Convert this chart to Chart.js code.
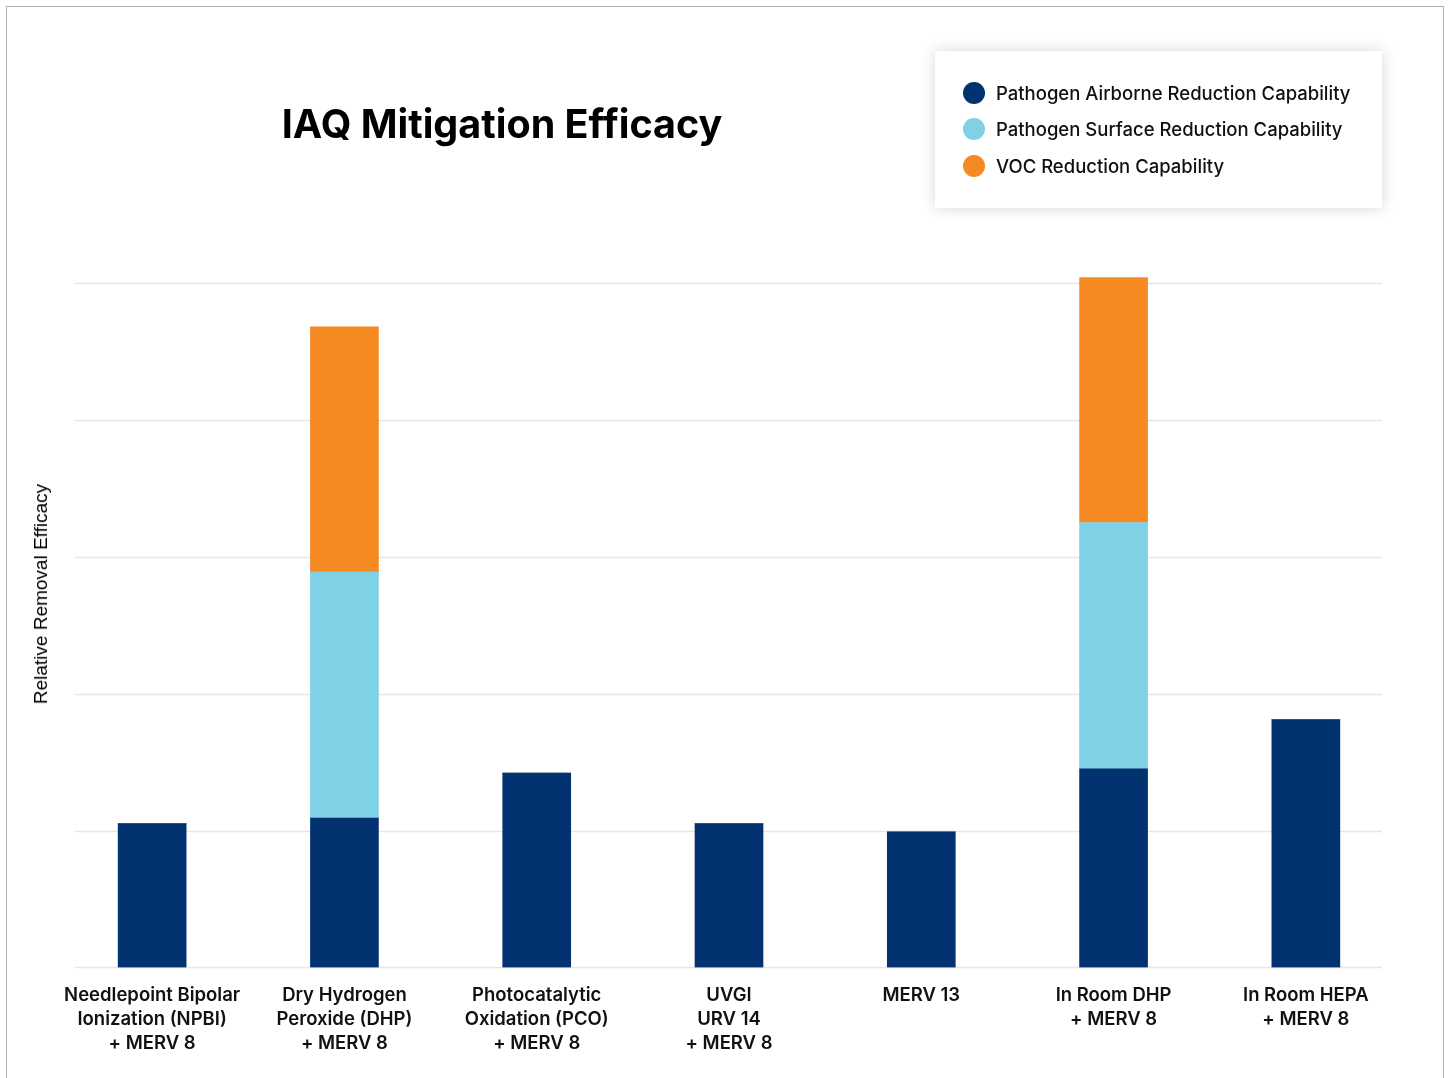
<!DOCTYPE html>
<html>
<head>
<meta charset="utf-8">
<title>IAQ Mitigation Efficacy</title>
<script src="https://cdn.jsdelivr.net/npm/chart.js@4.4.1/dist/chart.umd.min.js"></script>
<style>
    html, body {
        margin: 0;
        padding: 0;
        background: #fff;
        width: 1449px;
        height: 1078px;
        overflow: hidden;
    }
    .frame {
        position: absolute;
        left: 6px;
        top: 6px;
        width: 1436px;
        height: 1100px;
        border: 1.5px solid #b0b0b0;
    }
    #chartWrap {
        position: absolute;
        left: 0;
        top: 0;
        width: 1449px;
        height: 1078px;
    }
    .chart-title {
        position: absolute;
        left: 202px;
        top: 99px;
        width: 600px;
        text-align: center;
        font-family: Inter, "Noto Sans", sans-serif;
        font-weight: 700;
        font-size: 39.5px;
        line-height: 50px;
        color: #000;
    }
    .y-title {
        position: absolute;
        left: 41px;
        top: 594px;
        transform: translate(-50%, -50%) rotate(-90deg);
        white-space: nowrap;
        font-family: "Liberation Sans", Arial, sans-serif;
        font-size: 19px;
        color: #000;
    }
    .legend-box {
        position: absolute;
        left: 935px;
        top: 51px;
        width: 447px;
        height: 157px;
        background: #fff;
        box-shadow: 0 0 14px rgba(0, 0, 0, 0.16);
    }
    .legend-item {
        position: absolute;
        left: 28px;
        height: 24px;
        display: flex;
        align-items: center;
        font-family: Inter, "Noto Sans", sans-serif;
        font-weight: 500;
        font-size: 18.5px;
        color: #111;
        white-space: nowrap;
    }
    .legend-dot {
        width: 22px;
        height: 22px;
        border-radius: 50%;
        margin-right: 11px;
    }
</style>
</head>
<body>
<div class="frame"></div>
<div id="chartWrap"><canvas id="iaqChart" width="1449" height="1078"></canvas></div>
<div class="chart-title">IAQ Mitigation Efficacy</div>
<div class="y-title">Relative Removal Efficacy</div>
<div class="legend-box" id="legendBox"></div>

<script>
// Categories (multi-line tick labels)
const categories = [
    ['Needlepoint Bipolar', 'Ionization (NPBI)', '+ MERV 8'],
    ['Dry Hydrogen', 'Peroxide (DHP)', '+ MERV 8'],
    ['Photocatalytic', 'Oxidation (PCO)', '+ MERV 8'],
    ['UVGI', 'URV 14', '+ MERV 8'],
    ['MERV 13'],
    ['In Room DHP', '+ MERV 8'],
    ['In Room HEPA', '+ MERV 8']
];

// Series values (relative units)
const airborneValues = [1.05, 1.09, 1.42, 1.05, 0.99, 1.45, 1.81];
const surfaceValues  = [0, 1.80, 0, 0, 0, 1.80, 0];
const vocValues      = [0, 1.79, 0, 0, 0, 1.79, 0];

// Gridline values (no tick labels shown)
const gridValues = [0, 1, 2, 3, 4, 5];

const seriesNames = [
    'Pathogen Airborne Reduction Capability',
    'Pathogen Surface Reduction Capability',
    'VOC Reduction Capability'
];
const seriesColors = ['#033270', '#7fd1e6', '#f58a22'];

// Light horizontal gridlines, drawn a bit narrower than the category band
const gridPlugin = {
    id: 'shortGrid',
    beforeDatasetsDraw(chart) {
        const ctx = chart.ctx;
        const y = chart.scales.y;
        ctx.save();
        ctx.strokeStyle = '#e6e6e6';
        ctx.lineWidth = 1.5;
        gridValues.forEach(v => {
            const py = Math.round(y.getPixelForValue(v)) + 0.5;
            ctx.beginPath();
            ctx.moveTo(75, py);
            ctx.lineTo(1382, py);
            ctx.stroke();
        });
        ctx.restore();
    }
};

const datasets = [airborneValues, surfaceValues, vocValues].map((vals, i) => ({
    label: seriesNames[i],
    data: vals,
    backgroundColor: seriesColors[i],
    borderWidth: 0,
    barThickness: 68,
    stack: 'all'
}));

const chart = new Chart(document.getElementById('iaqChart'), {
    type: 'bar',
    data: {
        labels: categories,
        datasets: datasets
    },
    options: {
        responsive: false,
        animation: false,
        layout: {
            padding: { left: 56, right: 47, top: 220, bottom: 7 }
        },
        plugins: {
            legend: { display: false },
            title: { display: false },
            tooltip: { enabled: false }
        },
        scales: {
            x: {
                stacked: true,
                offset: true,
                grid: { display: false, drawTicks: false },
                border: { display: false },
                ticks: {
                    color: '#111',
                    padding: 16,
                    maxRotation: 0,
                    autoSkip: false,
                    font: { family: 'Inter, "Noto Sans", sans-serif', size: 18.5, weight: 600, lineHeight: 1.29 }
                }
            },
            y: {
                display: false,
                stacked: true,
                min: 0,
                max: 5.46
            }
        }
    },
    plugins: [gridPlugin]
});

// Legend built from the chart datasets
const legendBox = document.getElementById('legendBox');
const rowTops = [30, 66, 103];
chart.data.datasets.forEach((ds, i) => {
    const item = document.createElement('div');
    item.className = 'legend-item';
    item.style.top = rowTops[i] + 'px';
    item.innerHTML = '<span class="legend-dot" style="background:' + ds.backgroundColor + '"></span>' + ds.label;
    legendBox.appendChild(item);
});
</script>
</body>
</html>
